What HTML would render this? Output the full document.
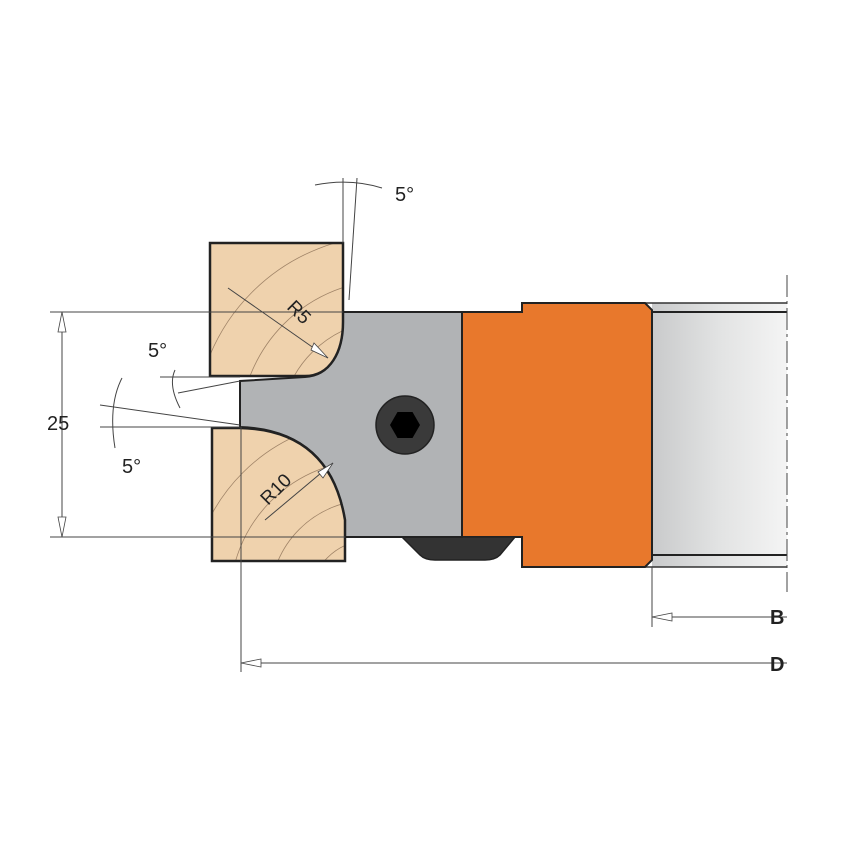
<!DOCTYPE html>
<html><head><style>body{margin:0;background:#fff}svg{display:block}text{font-family:"Liberation Sans",sans-serif}</style></head>
<body>
<svg width="848" height="848" viewBox="0 0 848 848" xmlns="http://www.w3.org/2000/svg">
<defs>
<linearGradient id="bore" x1="0" x2="1"><stop offset="0" stop-color="#c9cacb"/><stop offset="0.5" stop-color="#e2e3e3"/><stop offset="1" stop-color="#f4f4f4"/></linearGradient>
<clipPath id="w1"><path d="M210,243 H343 V322 C343,352 330,376 305,376 H210 Z"/></clipPath>
<clipPath id="w2"><path d="M212,428 H240 Q330,430 345,520 V561 H212 Z"/></clipPath>
</defs>
<rect x="652" y="303" width="135" height="264" fill="url(#bore)"/>
<line x1="645" y1="303" x2="787" y2="303" stroke="#333" stroke-width="1.5"/>
<line x1="652" y1="312" x2="787" y2="312" stroke="#222" stroke-width="2"/>
<line x1="652" y1="555" x2="787" y2="555" stroke="#222" stroke-width="2"/>
<line x1="645" y1="567" x2="787" y2="567" stroke="#333" stroke-width="1.5"/>
<line x1="787" y1="275" x2="787" y2="592" stroke="#444" stroke-width="1" stroke-dasharray="22,4,3,4"/>
<path d="M462,312 H522 V303 H645 L652,310 V560 L645,567 H522 V537 H462 Z" fill="#e8782c" stroke="#222" stroke-width="2"/>
<path d="M402,537 H515 L500,555 Q495,560 485,560 H435 Q425,560 420,555 Z" fill="#333" stroke="#222" stroke-width="1.5"/>
<path d="M343,312 H462 V537 H345 V520 Q330,430 240,427 V381 L305,377 C330,376 343,352 343,322 Z" fill="#b1b3b5" stroke="#222" stroke-width="2"/>
<circle cx="405" cy="425" r="29" fill="#3a3a3a" stroke="#222" stroke-width="1.5"/>
<polygon points="420,425 412.5,438 397.5,438 390,425 397.5,412 412.5,412" fill="#000"/>
<g>
<path d="M210,243 H343 V322 C343,352 330,376 305,376 H210 Z" fill="#efd2ad"/>
<g clip-path="url(#w1)" fill="none" stroke="#a08468" stroke-width="0.8">
<circle cx="390" cy="430" r="70"/><circle cx="390" cy="430" r="110"/><circle cx="390" cy="430" r="150"/><circle cx="390" cy="430" r="195"/>
</g>
<path d="M210,243 H343 V322 C343,352 330,376 305,376 H210 Z" fill="none" stroke="#222" stroke-width="2.5"/>
<path d="M212,428 H240 Q330,430 345,520 V561 H212 Z" fill="#efd2ad"/>
<g clip-path="url(#w2)" fill="none" stroke="#a08468" stroke-width="0.8">
<circle cx="370" cy="600" r="60"/><circle cx="370" cy="600" r="100"/><circle cx="370" cy="600" r="140"/><circle cx="370" cy="600" r="180"/>
</g>
<path d="M212,428 H240 Q330,430 345,520 V561 H212 Z" fill="none" stroke="#222" stroke-width="2.5"/>
</g>
<g stroke="#444" stroke-width="1" fill="none">
<line x1="50" y1="312" x2="343" y2="312"/>
<line x1="50" y1="537" x2="345" y2="537"/>
<line x1="62" y1="312" x2="62" y2="537"/>
<line x1="241" y1="427" x2="241" y2="672"/>
<line x1="241" y1="663" x2="787" y2="663"/>
<line x1="652" y1="567" x2="652" y2="627"/>
<line x1="652" y1="617" x2="787" y2="617"/>
<line x1="343" y1="243" x2="343" y2="178"/>
<line x1="349" y1="300" x2="357" y2="178"/>
<path d="M315,185 Q350,178 382,188"/>
<line x1="160" y1="377" x2="240" y2="377"/>
<line x1="178" y1="393" x2="240" y2="381"/>
<path d="M175,370 Q168,385 180,408"/>
<line x1="100" y1="427" x2="240" y2="427"/>
<line x1="100" y1="405" x2="240" y2="425"/>
<path d="M122,378 Q108,405 115,448"/>
<line x1="228" y1="288" x2="328" y2="358"/>
<line x1="265" y1="520" x2="333" y2="463"/>
</g>
<g fill="#fff" stroke="#444" stroke-width="0.8">
<polygon points="62,312 58,332 66,332"/>
<polygon points="62,537 58,517 66,517"/>
<polygon points="241,663 261,659 261,667"/>
<polygon points="652,617 672,613 672,621"/>
<polygon points="328,358 314,343 311,350"/>
<polygon points="333,463 318,472 323,478"/>
</g>
<g font-size="20" fill="#222">
<text x="395" y="201">5°</text>
<text x="148" y="357">5°</text>
<text x="122" y="473">5°</text>
<text x="47" y="430">25</text>
<text x="770" y="624" font-weight="bold">B</text>
<text x="770" y="671" font-weight="bold">D</text>
<text transform="translate(286,308) rotate(45)" font-size="19">R5</text>
<text transform="translate(268,506) rotate(-45)" font-size="19">R10</text>
</g>
</svg>
</body></html>
